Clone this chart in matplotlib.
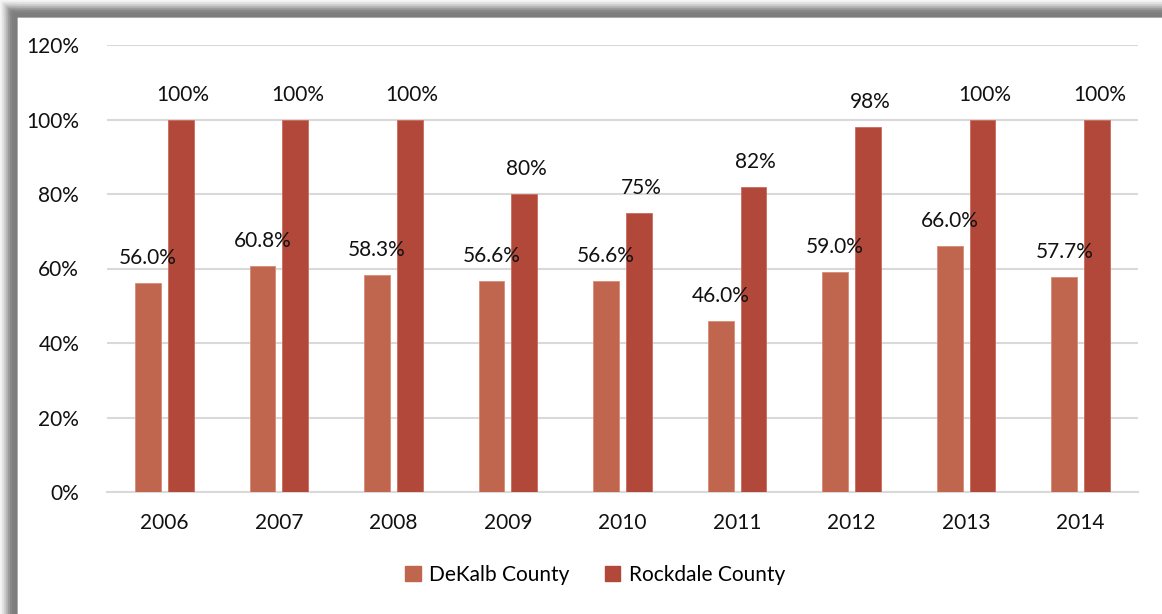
import matplotlib.pyplot as plt
from matplotlib.patches import Rectangle, Patch
import numpy as np

plt.rcParams['font.family'] = ['Lato', 'DejaVu Sans']

years = ['2006', '2007', '2008', '2009', '2010', '2011', '2012', '2013', '2014']
dekalb = [56.0, 60.8, 58.3, 56.6, 56.6, 46.0, 59.0, 66.0, 57.7]
rockdale = [100, 100, 100, 80, 75, 82, 98, 100, 100]
yticks = [0, 20, 40, 60, 80, 100, 120]

c_dekalb = '#C0654E'
c_rockdale = '#B2483A'
fs = 15

fig = plt.figure(figsize=(11.62, 6.14), dpi=100)
W, H = 1162, 614

# shaded frame on the left and top edges
shades = ['#f4f4f4', '#e4e4e4', '#cfcfcf', '#b6b6b6', '#9c9c9c', '#888888', '#808080', '#7d7d7d']
step = 2
for i, c in enumerate(shades):
    off = i * step
    fig.patches.append(Rectangle((off / W, 0), (16 - off) / W, 1 - off / H,
                                 transform=fig.transFigure, color=c, zorder=0))
    fig.patches.append(Rectangle((off / W, 1 - 16 / H), 1 - off / W, (16 - off) / H,
                                 transform=fig.transFigure, color=c, zorder=0))

ax = fig.add_axes([107 / W, 1 - 492 / H, (1138 - 107) / W, (492 - 45) / H])

x = np.arange(len(years))
bw = 0.225
off = 0.143
ax.bar(x - off, dekalb, bw, color=c_dekalb, edgecolor='#d98a75', linewidth=0.6, zorder=3)
ax.bar(x + off, rockdale, bw, color=c_rockdale, edgecolor='#cc6a5c', linewidth=0.6, zorder=3)

for xi, v in zip(x, dekalb):
    ax.text(xi - off, v + 4.0, f'{v:.1f}%', ha='center', va='bottom', fontsize=fs, color='#111111')
for xi, v in zip(x, rockdale):
    ax.text(xi + off + 0.02, v + 4.0, f'{v}%', ha='center', va='bottom', fontsize=fs, color='#111111')

ax.set_xlim(-0.5, len(years) - 0.5)
ax.set_ylim(0, 120)
ax.set_yticks(yticks)
ax.set_yticklabels([f'{t}%' for t in yticks])
ax.set_xticks(x)
ax.set_xticklabels(years)
ax.tick_params(axis='both', length=0, labelsize=fs, colors='#111111')
ax.tick_params(axis='y', pad=20)
ax.tick_params(axis='x', pad=15)
ax.grid(axis='y', color='#d9d9d9', linewidth=1.5, zorder=0)
for s in ['top', 'right', 'left']:
    ax.spines[s].set_visible(False)
ax.spines['bottom'].set_color('#d9d9d9')
ax.spines['bottom'].set_linewidth(1.5)

handles = [Patch(color=c_dekalb, label='DeKalb County'),
           Patch(color=c_rockdale, label='Rockdale County')]
fig.legend(handles=handles, loc='center', bbox_to_anchor=(595 / W, 1 - 575 / H), ncol=2,
           frameon=False, fontsize=fs, handlelength=0.75, handleheight=0.75,
           handletextpad=0.4, columnspacing=1.7)

fig.savefig('out.png', dpi=100)
